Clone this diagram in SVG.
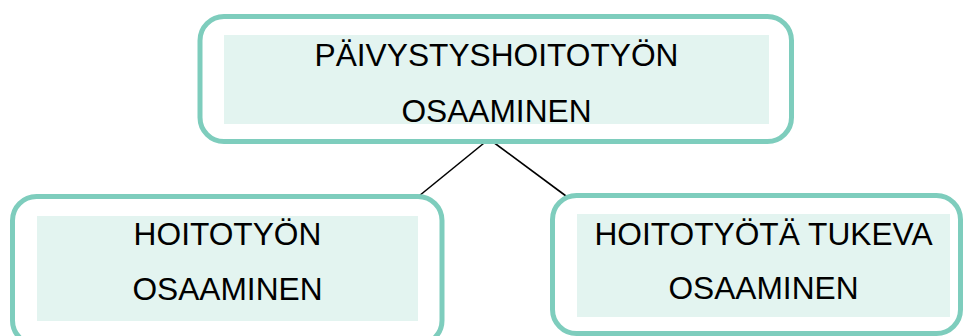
<svg xmlns="http://www.w3.org/2000/svg" width="963" height="336" viewBox="0 0 963 336">
  <style>
    .frame { fill: #ffffff; stroke: #7ecdbd; stroke-width: 5; }
    .panel { fill: #e3f4f0; stroke: none; }
    .label { font-family: "Liberation Sans", Arial, sans-serif; font-size: 31.7px; fill: #000000; text-anchor: middle; }
    .link { stroke: #000000; stroke-width: 1.6; fill: none; }
  </style>
  <rect width="963" height="336" fill="#ffffff"/>

  <g id="connectors">
    <line class="link" x1="489" y1="139" x2="419" y2="196"/>
    <line class="link" x1="489" y1="139" x2="566" y2="196"/>
  </g>

  <g id="node-paivystyshoitotyon-osaaminen">
    <rect class="frame" x="200" y="16.5" width="591.5" height="125" rx="24" ry="24"/>
    <rect class="panel" x="224" y="35" width="545" height="89"/>
    <text class="label" x="496.5" y="66">PÄIVYSTYSHOITOTYÖN</text>
    <text class="label" x="496.5" y="122">OSAAMINEN</text>
  </g>

  <g id="node-hoitotyon-osaaminen">
    <rect class="frame" x="12.5" y="196.5" width="429.5" height="148" rx="24" ry="24"/>
    <rect class="panel" x="37" y="216" width="381" height="105"/>
    <text class="label" x="227.5" y="245.3">HOITOTYÖN</text>
    <text class="label" x="227.5" y="300">OSAAMINEN</text>
  </g>

  <g id="node-hoitotyota-tukeva-osaaminen">
    <rect class="frame" x="552.5" y="195.5" width="408" height="138" rx="24" ry="24"/>
    <rect class="panel" x="577" y="214" width="373" height="103"/>
    <text class="label" x="763.5" y="244.7">HOITOTYÖTÄ TUKEVA</text>
    <text class="label" x="763.5" y="299.3">OSAAMINEN</text>
  </g>
</svg>
